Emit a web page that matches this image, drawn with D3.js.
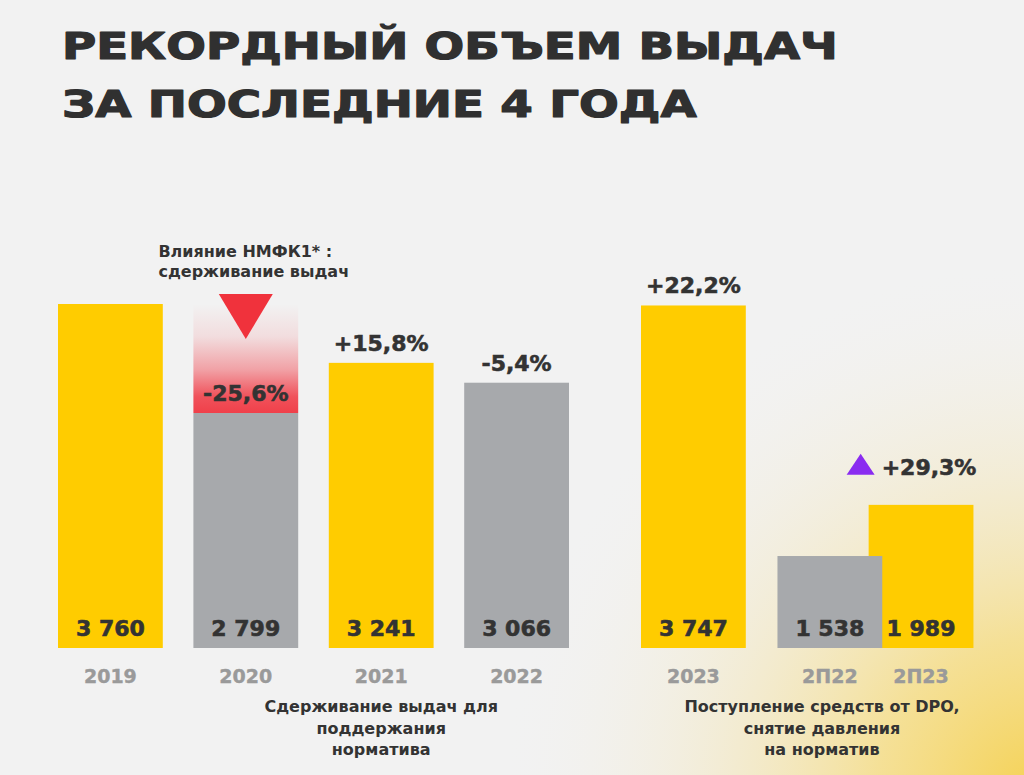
<!DOCTYPE html>
<html>
<head>
<meta charset="utf-8">
<script src="https://cdn.jsdelivr.net/npm/d3@7/dist/d3.min.js"></script>
<style>
  html, body { margin: 0; padding: 0; background: #f2f2f2; }
  svg { display: block; }
  text { font-family: "DejaVu Sans", sans-serif; font-weight: bold; }
</style>
</head>
<body>
<script>
// ---------- data ----------
const titleLines = ["РЕКОРДНЫЙ ОБЪЕМ ВЫДАЧ", "ЗА ПОСЛЕДНИЕ 4 ГОДА"];
const years = ["2019", "2020", "2021", "2022"];
const yearVolumes = [3760, 2799, 3241, 3066];
const lastYear = ["2023"];
const lastYearVolume = [3747];
const halfYears = ["2П22", "2П23"];
const halfVolumes = [1538, 1989];
const noteLines = ["Влияние НМФК1* :", "сдерживание выдач"];
const captionLeft = ["Сдерживание выдач для", "поддержания", "норматива"];
const captionRight = ["Поступление средств от DPO,", "снятие давления", "на норматив"];

// ---------- setup ----------
const W = 1024, H = 775;
const YELLOW = "#ffcc00", GRAY = "#a7a9ac", DARK = "#333333", MUTED = "#9a9a9a";
const RED = "#f0323c", PURPLE = "#8a2cf0";

const locale = d3.formatLocale({decimal: ",", thousands: "\u00a0", grouping: [3], currency: ["", ""], minus: "-"});
const fmtNum = locale.format(",d");
const fmtPct = locale.format("+.1%");

const svg = d3.select("body").append("svg").attr("width", W).attr("height", H);
const defs = svg.append("defs");

const glow = defs.append("radialGradient").attr("id", "glow")
  .attr("gradientUnits", "userSpaceOnUse").attr("cx", 1040).attr("cy", 800).attr("r", 540);
[[0, "#f5cf48", 0.95], [0.3, "#f6d86e", 0.7], [0.6, "#f4e3aa", 0.4], [1, "#f2f2f2", 0]]
  .forEach(s => glow.append("stop").attr("offset", s[0]).attr("stop-color", s[1]).attr("stop-opacity", s[2]));

const redGrad = defs.append("linearGradient").attr("id", "redFade")
  .attr("x1", 0).attr("y1", 0).attr("x2", 0).attr("y2", 1);
[[0, 0], [0.3, 0.12], [0.6, 0.45], [0.85, 0.9], [1, 1]]
  .forEach(s => redGrad.append("stop").attr("offset", s[0]).attr("stop-color", "#f0404a").attr("stop-opacity", s[1]));

svg.append("rect").attr("width", W).attr("height", H).attr("fill", "#f2f2f2");
svg.append("rect").attr("width", W).attr("height", H).attr("fill", "url(#glow)");

// ---------- title (glyphs stretched horizontally to the poster's wide face) ----------
const titleWidths = [776, 635];
svg.selectAll("text.title").data(titleLines).join("text")
  .attr("class", "title")
  .attr("font-size", 37).attr("fill", "#303030")
  .attr("stroke", "#303030").attr("stroke-width", 1.2).attr("stroke-linejoin", "round")
  .text(d => d)
  .each(function (d, i) {
    const w = this.getComputedTextLength();
    d3.select(this).attr("transform", `translate(62,${59 + i * 58}) scale(${titleWidths[i] / w},1)`);
  });

// ---------- scales ----------
const baseY = 648;
const y = d3.scaleLinear().domain([727, 3760]).range([baseY, 304]);
const xLeft = d3.scaleBand().domain(years).range([58, 569]).paddingInner(0.226);
const xRight = d3.scaleBand().domain([lastYear[0], "half"]).range([641, 882]).paddingInner(0.234);
const bw = xLeft.bandwidth();
const xHalf = d3.scaleLinear().domain([0, 1]).range([xRight("half"), xRight("half") + bw * 0.87]);

const barColor = d3.scaleOrdinal()
  .domain(["2019", "2020", "2021", "2022", "2023", "2П22", "2П23"])
  .range([YELLOW, GRAY, YELLOW, GRAY, YELLOW, GRAY, YELLOW]);

// assemble bar records
const bars = [];
years.forEach((k, i) => bars.push({key: k, v: yearVolumes[i], x: xLeft(k), prev: i ? yearVolumes[i - 1] : null}));
bars.push({key: lastYear[0], v: lastYearVolume[0], x: xRight(lastYear[0]), prev: yearVolumes[yearVolumes.length - 1]});
// draw 2П23 before 2П22 so the grey bar overlaps it
const halfBars = halfYears.map((k, i) => ({key: k, v: halfVolumes[i], x: xHalf(i), prev: i ? halfVolumes[i - 1] : null}));
const allBars = bars.concat([halfBars[1], halfBars[0]]);

// red fade for 2020 decline
const decline = bars[1];
svg.append("rect")
  .attr("x", decline.x).attr("width", bw)
  .attr("y", y(decline.prev)).attr("height", y(decline.v) - y(decline.prev))
  .attr("fill", "url(#redFade)");

// bars
svg.selectAll("rect.bar").data(allBars).join("rect")
  .attr("class", "bar")
  .attr("x", d => d.x).attr("width", bw)
  .attr("y", d => y(d.v)).attr("height", d => baseY - y(d.v))
  .attr("fill", d => barColor(d.key));

// value labels
svg.selectAll("text.val").data(allBars).join("text")
  .attr("class", "val")
  .attr("x", d => d.x + bw / 2).attr("y", baseY - 12)
  .attr("text-anchor", "middle").attr("font-size", 22).attr("fill", DARK)
  .attr("stroke", DARK).attr("stroke-width", 0.6)
  .text(d => fmtNum(d.v));

// category labels
svg.selectAll("text.cat").data(allBars).join("text")
  .attr("class", "cat")
  .attr("x", d => d.x + bw / 2).attr("y", baseY + 35)
  .attr("text-anchor", "middle").attr("font-size", 19).attr("fill", MUTED)
  .attr("stroke", MUTED).attr("stroke-width", 0.4)
  .text(d => d.key);

// change labels above bars (2021, 2022, 2023)
const aboveBars = bars.filter((d, i) => d.prev !== null && i !== 1);
svg.selectAll("text.chg").data(aboveBars).join("text")
  .attr("class", "chg")
  .attr("x", d => d.x + bw / 2).attr("y", d => y(d.v) - 12)
  .attr("text-anchor", "middle").attr("font-size", 22).attr("fill", DARK)
  .attr("stroke", DARK).attr("stroke-width", 0.6)
  .text(d => fmtPct(d.v / d.prev - 1));

// 2020 decline label + red triangle
svg.append("text")
  .attr("x", decline.x + bw / 2).attr("y", y(decline.v) - 12)
  .attr("text-anchor", "middle").attr("font-size", 22).attr("fill", DARK)
  .attr("stroke", DARK).attr("stroke-width", 0.6)
  .text(fmtPct(decline.v / decline.prev - 1));
const cx = decline.x + bw / 2, tTop = y(decline.prev) - 10;
svg.append("path")
  .attr("d", `M${cx - 27},${tTop} L${cx + 27},${tTop} L${cx},${tTop + 45} Z`)
  .attr("fill", RED);

// note
svg.selectAll("text.note").data(noteLines).join("text")
  .attr("class", "note")
  .attr("x", decline.x - 35).attr("y", (d, i) => tTop - 37 + i * 20)
  .attr("font-size", 16).attr("fill", DARK)
  .text(d => d);

// half-year growth
const hb = halfBars[1];
const hy = y(hb.v) - 30;
svg.append("path")
  .attr("d", `M${hb.x - 22},${hy} L${hb.x + 6},${hy} L${hb.x - 8},${hy - 21} Z`)
  .attr("fill", PURPLE);
svg.append("text")
  .attr("x", hb.x + 13).attr("y", hy)
  .attr("font-size", 22).attr("fill", DARK)
  .attr("stroke", DARK).attr("stroke-width", 0.6)
  .text(fmtPct(hb.v / halfBars[0].v - 1));

// captions
function caption(lines, cxp) {
  svg.append("g").selectAll("text").data(lines).join("text")
    .attr("x", cxp).attr("y", (d, i) => 712 + i * 21.5)
    .attr("text-anchor", "middle").attr("font-size", 16).attr("fill", DARK)
    .text(d => d);
}
caption(captionLeft, (xLeft("2020") + xLeft("2022") + bw) / 2);
caption(captionRight, 822);
</script>
</body>
</html>
